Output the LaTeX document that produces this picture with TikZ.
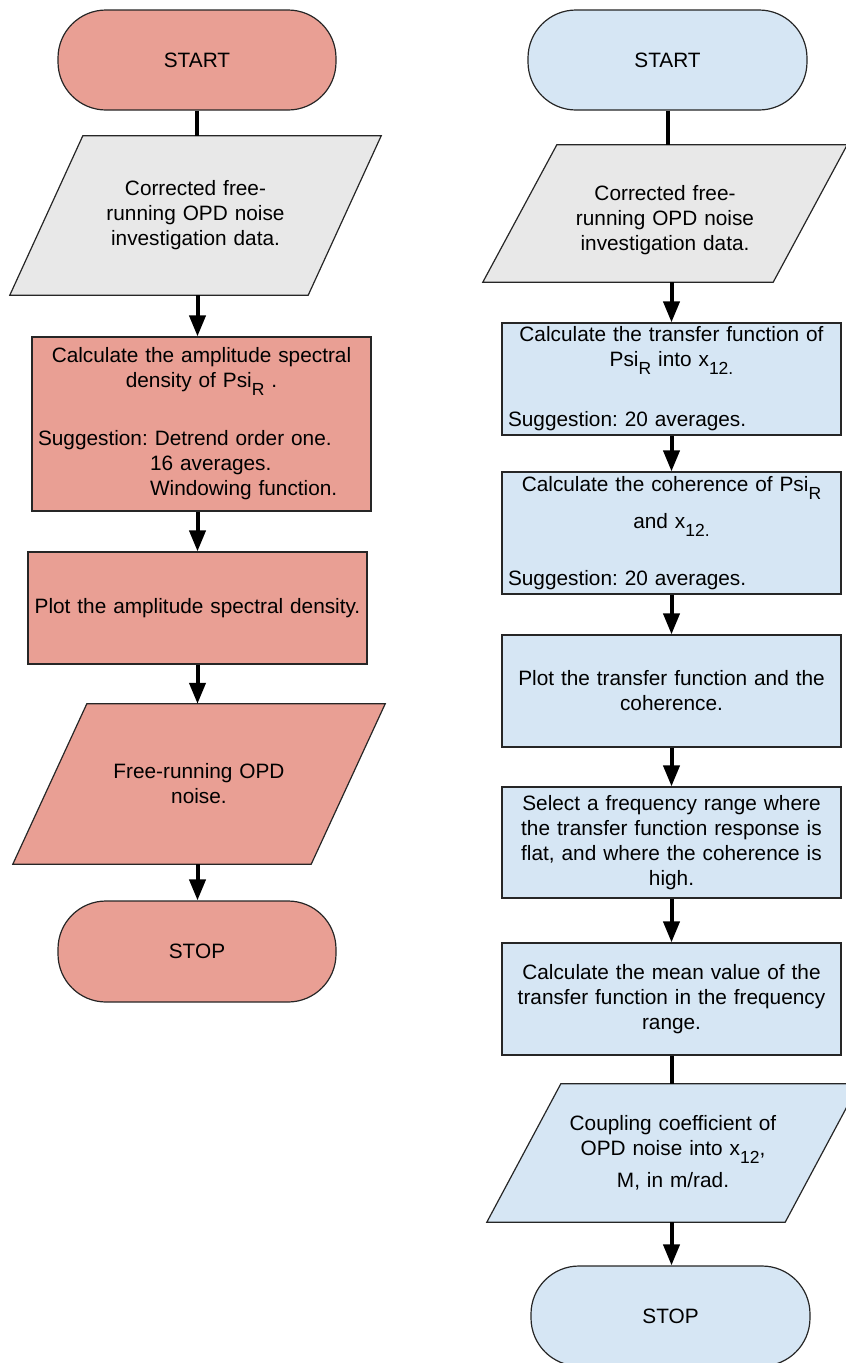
\documentclass[tikz,border=0pt]{standalone}
\usepackage{fontspec}
\setmainfont{Liberation Sans}
\usetikzlibrary{arrows.meta,backgrounds}

\definecolor{pinkfill}{RGB}{233,159,148}
\definecolor{bluefill}{RGB}{214,230,244}
\definecolor{greyfill}{RGB}{232,232,232}

\newcommand\flowfont{\fontsize{20.8pt}{25pt}\selectfont\frenchspacing}
\newcommand\lowsub[1]{\raisebox{-8pt}{\fontsize{17.5pt}{18pt}\selectfont #1}}
% parallelogram behind an input/output node: #1 node, #2 slant, #3 fill
\newcommand\drawpgram[3]{%
  \begin{scope}[on background layer]
    \filldraw[shapeline, fill=#3] ([xshift=#2pt]#1.north west) -- (#1.north east)
      -- ([xshift=-#2pt]#1.south east) -- (#1.south west) -- cycle;
  \end{scope}}

\tikzset{
  shapeline/.style={draw=black!85, line width=1.2pt},
  terminal/.style={shapeline, rectangle, rounded corners=48pt,
    minimum width=278pt, minimum height=100pt, font=\flowfont},
  procbox/.style={shapeline, rectangle, minimum width=339pt, text width=327pt,
    inner xsep=6pt, inner ysep=0pt, align=center, font=\flowfont},
  iobox/.style={rectangle, inner sep=0pt, text width=260pt, align=center, font=\flowfont},
  flow/.style={line width=4pt, -{Triangle[length=21pt, width=16pt]}},
  link/.style={line width=4pt},
}

\begin{document}
\begin{tikzpicture}[x=1pt, y=-1pt]
\useasboundingbox (0,0) rectangle (846,1363);

% ---- amplitude spectral density chart ----
\node[terminal, fill=pinkfill] (lstart) at (197,60) {START};
\node[iobox, minimum width=371pt, minimum height=159pt] (lin) at (195.5,215.5)
  {Corrected free-\\running OPD noise\\investigation data.};
\drawpgram{lin}{73}{greyfill}
\node[procbox, fill=pinkfill, minimum height=174pt] (lasd) at (201.5,424)
  {Calculate the amplitude spectral\\
   density of Psi\lowsub{R} .\\[33pt]
   \makebox[327pt][l]{Suggestion: Detrend order one.}\\
   \makebox[327pt][l]{\hspace*{112pt}16 averages.}\\
   \makebox[327pt][l]{\hspace*{112pt}Windowing function.}};
\node[procbox, fill=pinkfill, minimum height=112pt] (lplot) at (197.5,608)
  {Plot the amplitude spectral density.};
\node[iobox, minimum width=372pt, minimum height=160pt] (lout) at (199,784)
  {Free-running OPD\\noise.};
\drawpgram{lout}{74}{pinkfill}
\node[terminal, fill=pinkfill, minimum height=101pt] (lstop) at (197,951.5) {STOP};

\draw[link] (lstart.south) -- (lstart.south |- lin.north);
\draw[flow] (lin.south -| lplot.north) -- (lasd.north -| lplot.north);
\draw[flow] (lasd.south -| lplot.north) -- (lplot.north);
\draw[flow] (lplot.south) -- (lplot.south |- lout.north);
\draw[flow] (lout.south -| lplot.north) -- (lstop.north -| lplot.north);

% ---- coupling coefficient chart ----
\node[terminal, fill=bluefill, minimum width=279pt] (rstart) at (667.5,60) {START};
\node[iobox, minimum width=364pt, minimum height=137pt] (rin) at (665,213.5)
  {\rule{0pt}{29pt}Corrected free-\\running OPD noise\\investigation data.};
\drawpgram{rin}{74}{greyfill}
\node[procbox, fill=bluefill, minimum height=112pt] (rtf) at (671.5,379)
  {Calculate the transfer function of\\
   Psi\lowsub{R} into x\lowsub{12.}\\[35pt]
   \makebox[327pt][l]{Suggestion: 20 averages.}};
\node[procbox, fill=bluefill, minimum height=122pt] (rcoh) at (671.5,533)
  {Calculate the coherence of Psi\lowsub{R}\\[12pt]
   and x\lowsub{12.}\\[32pt]
   \makebox[327pt][l]{Suggestion: 20 averages.}};
\node[procbox, fill=bluefill, minimum height=112pt] (rplot) at (671.5,691)
  {Plot the transfer function and the\\coherence.};
\node[procbox, fill=bluefill, minimum height=111pt] (rsel) at (671.5,842.5)
  {Select a frequency range where\\the transfer function response is\\flat, and where the coherence is\\high.};
\node[procbox, fill=bluefill, minimum height=112pt] (rmean) at (671.5,999)
  {Calculate the mean value of the\\transfer function in the frequency\\range.};
\node[iobox, minimum width=372pt, minimum height=138pt] (rout) at (673,1153)
  {Coupling coefficient of\\OPD noise into x\lowsub{12},\\[7pt]M, in m/rad.};
\drawpgram{rout}{74}{bluefill}
\node[terminal, fill=bluefill, minimum width=279pt] (rstop) at (670.5,1316) {STOP};

\draw[link] (rstart.south) -- (rstart.south |- rin.north);
\draw[flow] (rin.south -| rtf.north) -- (rtf.north);
\draw[flow] (rtf.south) -- (rcoh.north);
\draw[flow] (rcoh.south) -- (rplot.north);
\draw[flow] (rplot.south) -- (rsel.north);
\draw[flow] (rsel.south) -- (rmean.north);
\draw[link] (rmean.south) -- (rmean.south |- rout.north);
\draw[flow] (rout.south -| rtf.north) -- (rstop.north -| rtf.north);
\end{tikzpicture}
\end{document}
